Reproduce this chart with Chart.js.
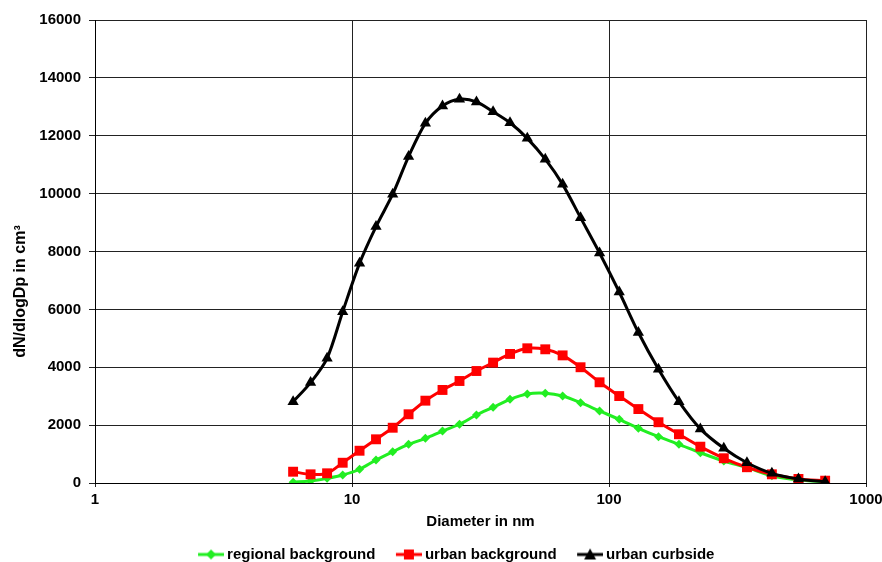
<!DOCTYPE html>
<html><head><meta charset="utf-8">
<script src="https://cdn.jsdelivr.net/npm/chart.js@4.4.0/dist/chart.umd.min.js"></script>
<style>html,body{margin:0;padding:0;background:#fff;} canvas{display:block;}</style>
</head><body>
<canvas id="c" width="882" height="562"></canvas>
<script>
// ---- data ----
const diameters = [5.9, 6.9, 8.0, 9.2, 10.7, 12.4, 14.4, 16.6, 19.3, 22.5, 26.2, 30.5, 35.4, 41.2, 48.1, 56.5, 66.0, 77.5, 91.9, 109.6, 130.1, 155.8, 187.1, 226.7, 279.7, 344.2, 430.3, 546.0, 693.5];
const regionalBackground = [30, 70, 160, 275, 475, 795, 1080, 1335, 1545, 1795, 2030, 2350, 2615, 2890, 3075, 3100, 3005, 2775, 2490, 2200, 1890, 1600, 1335, 1045, 760, 530, 250, 105, 45];
const urbanBackground = [390, 300, 335, 700, 1115, 1510, 1910, 2375, 2845, 3215, 3525, 3870, 4160, 4460, 4655, 4620, 4410, 4000, 3480, 3005, 2555, 2100, 1685, 1255, 855, 545, 300, 140, 80];
const urbanCurbside = [2810, 3470, 4310, 5920, 7590, 8860, 9980, 11280, 12430, 13030, 13260, 13170, 12830, 12450, 11910, 11190, 10320, 9170, 7950, 6600, 5200, 3930, 2810, 1870, 1200, 700, 335, 140, 45];
const xTickValues = [1, 10, 100, 1000];
const seriesNames = ['regional background', 'urban background', 'urban curbside'];
const xTitle = 'Diameter in nm';
const yTitle = 'dN/dlogDp in cm\u00B3';

const FONT = '"Liberation Sans", Arial, sans-serif';
const GREEN = '#22ee22', RED = '#ff0000', BLACK = '#000000';
const PAD_LEFT = 28;

function toXY(vals) { return vals.map((v, i) => ({x: diameters[i], y: v})); }

// legend icon: line with marker, right-aligned inside a wider transparent box
function legendIcon(color, shape) {
  const W = 49, L = 26, x0 = W - L, cx = x0 + 13;
  const c = document.createElement('canvas'); c.width = W; c.height = 14;
  const g = c.getContext('2d');
  g.strokeStyle = color; g.lineWidth = 3;
  g.beginPath(); g.moveTo(x0, 7); g.lineTo(W, 7); g.stroke();
  g.fillStyle = color; g.beginPath();
  if (shape === 'diamond') { g.moveTo(cx, 2); g.lineTo(cx + 5, 7); g.lineTo(cx, 12); g.lineTo(cx - 5, 7); }
  else if (shape === 'square') { g.rect(cx - 5, 2, 10, 10); }
  else { g.moveTo(cx, 1); g.lineTo(cx + 6, 12); g.lineTo(cx - 6, 12); }
  g.closePath(); g.fill();
  return c;
}
const icons = [legendIcon(GREEN, 'diamond'), legendIcon(RED, 'square'), legendIcon(BLACK, 'triangle')];

const common = {borderWidth: 3, tension: 0.3, fill: false};
new Chart(document.getElementById('c'), {
  type: 'line',
  data: {
    datasets: [
      Object.assign({label: seriesNames[0], data: toXY(regionalBackground), borderColor: GREEN, backgroundColor: GREEN,
        pointStyle: 'rectRot', pointRadius: 4.5, pointBorderWidth: 0, order: 2}, common),
      Object.assign({label: seriesNames[1], data: toXY(urbanBackground), borderColor: RED, backgroundColor: RED,
        pointStyle: 'rect', pointRadius: 7, pointBorderWidth: 0, order: 1}, common),
      Object.assign({label: seriesNames[2], data: toXY(urbanCurbside), borderColor: BLACK, backgroundColor: BLACK,
        pointStyle: 'triangle', pointRadius: 6.5, pointBorderWidth: 0, order: 0}, common)
    ]
  },
  options: {
    responsive: false, animation: false, devicePixelRatio: 1,
    layout: {padding: {top: 20, right: 16, left: PAD_LEFT, bottom: -10}},
    plugins: {
      tooltip: {enabled: false},
      legend: {
        position: 'bottom',
        labels: {
          usePointStyle: true, pointStyleWidth: 40, padding: 2,
          color: '#000', font: {family: FONT, size: 15, weight: 'bold', lineHeight: 1},
          sort: (a, b) => a.datasetIndex - b.datasetIndex,
          generateLabels: chart => chart.data.datasets.map((d, i) => ({
            text: d.label, datasetIndex: i, pointStyle: icons[i], fillStyle: d.borderColor,
            strokeStyle: d.borderColor, lineWidth: 0, hidden: false, fontColor: '#000'
          }))
        }
      }
    },
    scales: {
      x: {
        type: 'logarithmic', min: 1, max: 1000,
        afterBuildTicks: s => { s.ticks = xTickValues.map(v => ({value: v})); },
        afterFit: s => { s.height = 62; s.paddingRight = 0; s.paddingLeft = 0; },
        ticks: {callback: v => String(v), color: '#000', font: {family: FONT, size: 15, weight: 'bold'}, padding: 4, autoSkip: false, maxRotation: 0},
        grid: {color: '#222', lineWidth: 1, tickLength: 4},
        border: {color: '#000', width: 1},
        title: {display: true, text: xTitle, color: '#000', font: {family: FONT, size: 15, weight: 'bold'}, padding: {top: 4, bottom: 14}}
      },
      y: {
        min: 0, max: 16000,
        afterFit: s => { s.width = 95 - PAD_LEFT; s.paddingTop = 0; s.paddingBottom = 0; },
        ticks: {stepSize: 2000, callback: v => String(v), color: '#000', font: {family: FONT, size: 15, weight: 'bold'}, padding: 8},
        grid: {color: '#222', lineWidth: 1, tickLength: 6},
        border: {color: '#000', width: 1},
        title: {display: true, text: yTitle + '\u2003\u2003\u2003\u2003\u2003', color: '#000', font: {family: FONT, size: 16, weight: 'bold'}, padding: {top: 11 - PAD_LEFT, bottom: 0}}
      }
    }
  }
});
</script>
</body></html>
